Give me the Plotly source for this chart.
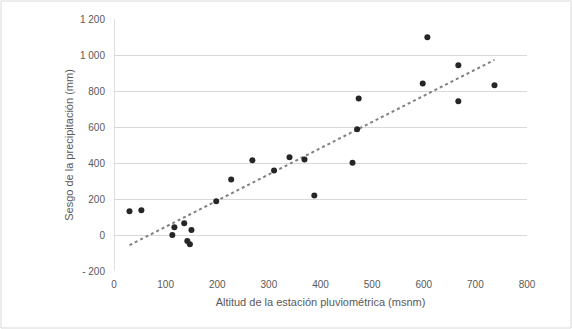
import numpy as np
import plotly.graph_objects as go

altitud = [30, 53, 113, 117, 136, 142, 147, 150, 198, 227, 268, 310, 340, 369, 388,
           462, 471, 474, 598, 607, 667, 667, 737]
sesgo = [132, 137, 0, 43, 65, -33, -52, 28, 187, 309, 415, 359, 432, 420, 220,
         402, 587, 759, 842, 1098, 943, 743, 832]

y_ticks = [-200, 0, 200, 400, 600, 800, 1000, 1200]
y_ticktext = ["- 200", "0", "200", "400", "600", "800", "1 000", "1 200"]
x_ticks = [0, 100, 200, 300, 400, 500, 600, 700, 800]

slope, intercept = np.polyfit(altitud, sesgo, 1)
tx = [min(altitud), max(altitud)]
ty = [slope * v + intercept for v in tx]

W, H = 572, 329
ml, mr, mt, mb = 114, 45, 19, 58
pw, ph = W - ml - mr, H - mt - mb

fig = go.Figure()
fig.add_trace(go.Scatter(x=tx, y=ty, mode="lines",
                         line=dict(color="#808080", width=2, dash="dot"),
                         hoverinfo="skip", showlegend=False))
fig.add_trace(go.Scatter(x=altitud, y=sesgo, mode="markers",
                         marker=dict(color="#262626", size=6),
                         showlegend=False))

font = dict(family="Liberation Sans, Arial, sans-serif", color="#595959", size=10)
fig.update_layout(
    width=W, height=H,
    margin=dict(l=ml, r=mr, t=mt, b=mb, autoexpand=False),
    paper_bgcolor="white", plot_bgcolor="white",
    font=font,
    xaxis=dict(range=[0, 800], tickvals=x_ticks, showgrid=False, zeroline=False,
               showline=False, ticks="", automargin=False, ticklabelstandoff=6,
               tickfont=dict(size=10, color="#595959"),
               title=dict(text="Altitud de la estación pluviométrica (msnm)",
                          font=dict(size=11, color="#595959"), standoff=9)),
    yaxis=dict(range=[-200, 1200], tickvals=y_ticks, ticktext=y_ticktext,
               showgrid=True, gridcolor="#d9d9d9", gridwidth=1, zeroline=False,
               showline=False, ticks="", ticklabelstandoff=8, automargin=False,
               tickfont=dict(size=10, color="#595959"),
               title=dict(text="Sesgo de la precipitación (mm)",
                          font=dict(size=11, color="#595959"), standoff=4)),
    shapes=[
        dict(type="line", xref="x", yref="paper", x0=0, x1=0, y0=0, y1=1,
             line=dict(color="#bfbfbf", width=1), layer="below"),
        dict(type="rect", xref="paper", yref="paper",
             x0=(-ml + 1) / pw, x1=1 + (mr - 1) / pw,
             y0=(-mb + 1) / ph, y1=1 + (mt - 1) / ph,
             line=dict(color="#d9d9d9", width=1)),
    ],
)
fig.write_html("out.html", config={"displayModeBar": False},
               post_script="document.body.style.margin='0';document.body.style.overflow='hidden';")
